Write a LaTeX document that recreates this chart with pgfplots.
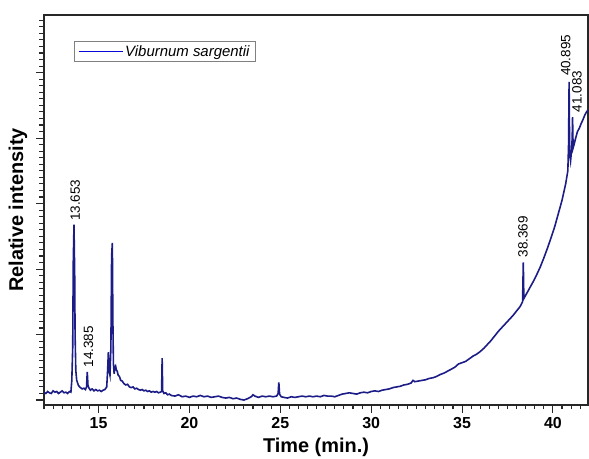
\documentclass[border=0pt]{standalone}
\usepackage{pgfplots}
\pgfplotsset{compat=1.18}
\usepackage{fontspec}
\setmainfont{Liberation Sans}
\definecolor{navy}{RGB}{28,28,135}
\definecolor{frame}{RGB}{40,40,40}
\begin{document}
\begin{tikzpicture}[x=1bp,y=1bp]
\useasboundingbox (0,0) rectangle (589,459);
\begin{axis}[
  at={(44bp,54bp)}, anchor=south west,
  width=544bp, height=390bp, scale only axis,
  xmin=12, xmax=41.93, ymin=-0.076, ymax=5.88,
  xtick={15,20,25,30,35,40},
  minor xtick={12,12.5,...,41.5},
  ytick={0,1,2,3,4,5}, yticklabels={},
  minor ytick={-0.0,0.1,...,5.8},
  xtick pos=left, ytick pos=left,
  tick align=outside,
  major tick length=8bp, minor tick length=4.5bp,
  major tick style={frame, line width=1.1bp},
  minor tick style={frame, line width=1.1bp},
  axis line style={frame, line width=1.3bp},
  /pgf/number format/assume math mode=true,
  xticklabel style={font=\fontsize{16}{18}\selectfont\bfseries, yshift=-1bp},
  xlabel={Time (min.)},
  ylabel={Relative intensity},
  xlabel style={font=\fontsize{20}{22}\selectfont\bfseries, at={(axis description cs:0.5,-0.108)}, anchor=center},
  ylabel style={font=\fontsize{20}{22}\selectfont\bfseries, at={(axis description cs:-0.048,0.5)}, anchor=center},
  legend style={at={(axis description cs:0.055,0.933)}, anchor=north west,
    draw=gray, line width=0.6bp, font=\fontsize{15}{17}\selectfont\itshape,
    inner xsep=4bp, inner ysep=2bp},
  legend image code/.code={\draw[blue!70!navy, line width=1bp] (0bp,0bp) -- (44bp,0bp);},
  clip=true,
]
\addplot[navy, line width=1.6bp] table {
12.00 0.12
12.10 0.10
12.20 0.13
12.30 0.11
12.40 0.10
12.50 0.14
12.60 0.12
12.70 0.13
12.80 0.10
12.90 0.12
13.00 0.14
13.10 0.11
13.20 0.12
13.30 0.10
13.40 0.13
13.48 0.12
13.53 0.30
13.58 0.80
13.61 2.10
13.65 2.68
13.69 1.88
13.71 1.00
13.75 0.45
13.80 0.30
13.90 0.22
14.00 0.19
14.10 0.17
14.20 0.18
14.28 0.16
14.34 0.20
14.38 0.43
14.42 0.22
14.48 0.18
14.55 0.15
14.65 0.17
14.75 0.14
14.85 0.16
14.95 0.14
15.05 0.15
15.15 0.13
15.25 0.15
15.35 0.16
15.45 0.20
15.50 0.45
15.54 0.73
15.58 0.45
15.63 0.38
15.68 0.80
15.72 2.20
15.76 2.40
15.79 1.20
15.82 0.55
15.86 0.40
15.90 0.50
15.94 0.52
15.98 0.46
16.03 0.44
16.08 0.38
16.15 0.36
16.22 0.30
16.30 0.29
16.40 0.25
16.50 0.23
16.60 0.24
16.70 0.20
16.80 0.19
16.90 0.20
17.00 0.17
17.10 0.18
17.20 0.16
17.30 0.15
17.40 0.16
17.50 0.14
17.60 0.15
17.70 0.13
17.80 0.14
17.90 0.12
18.00 0.13
18.10 0.12
18.20 0.13
18.30 0.11
18.40 0.12
18.47 0.13
18.50 0.64
18.53 0.14
18.60 0.10
18.70 0.11
18.80 0.08
18.90 0.09
19.00 0.07
19.20 0.06
19.40 0.08
19.60 0.05
19.80 0.06
20.00 0.04
20.20 0.06
20.40 0.05
20.60 0.07
20.80 0.05
21.00 0.06
21.20 0.04
21.40 0.05
21.60 0.06
21.80 0.04
22.00 0.03
22.20 0.04
22.40 0.02
22.60 0.03
22.80 0.01
23.00 0.00
23.20 0.02
23.40 0.05
23.50 0.08
23.60 0.06
23.80 0.04
24.00 0.06
24.20 0.05
24.40 0.06
24.60 0.05
24.80 0.06
24.88 0.10
24.92 0.27
24.96 0.09
25.05 0.05
25.20 0.04
25.40 0.03
25.60 0.05
25.80 0.04
26.00 0.05
26.20 0.06
26.40 0.05
26.60 0.06
26.80 0.05
27.00 0.06
27.20 0.05
27.40 0.07
27.60 0.06
27.80 0.06
28.00 0.05
28.20 0.07
28.40 0.09
28.60 0.10
28.80 0.11
29.00 0.10
29.20 0.09
29.40 0.11
29.60 0.12
29.80 0.11
30.00 0.13
30.20 0.14
30.40 0.13
30.60 0.15
30.80 0.16
31.00 0.17
31.20 0.19
31.40 0.20
31.60 0.21
31.80 0.23
32.00 0.24
32.20 0.26
32.30 0.30
32.40 0.28
32.60 0.29
32.80 0.30
33.00 0.31
33.20 0.33
33.40 0.34
33.60 0.36
33.80 0.39
34.00 0.41
34.20 0.44
34.40 0.47
34.60 0.50
34.80 0.55
35.00 0.57
35.20 0.59
35.40 0.63
35.60 0.67
35.80 0.70
36.00 0.74
36.20 0.79
36.40 0.85
36.60 0.91
36.80 0.98
37.00 1.05
37.20 1.11
37.40 1.17
37.60 1.23
37.80 1.29
38.00 1.36
38.20 1.43
38.33 1.50
38.37 2.10
38.40 1.55
38.50 1.60
38.70 1.70
38.90 1.80
39.10 1.91
39.30 2.03
39.50 2.17
39.70 2.32
39.90 2.48
40.10 2.65
40.30 2.85
40.50 3.05
40.70 3.30
40.82 3.50
40.86 3.90
40.89 4.86
40.92 3.75
40.97 3.65
41.02 3.80
41.06 4.00
41.08 4.32
41.11 3.85
41.16 3.90
41.25 4.00
41.35 4.10
41.45 4.15
41.55 4.22
41.65 4.28
41.75 4.35
41.85 4.40
41.93 4.43
};
\addlegendentry{Viburnum sargentii}
\begin{scope}[every node/.style={rotate=90, anchor=west, inner sep=1bp, font=\fontsize{13.5}{15}\selectfont}]
\node at (axis cs:13.72,2.72) {13.653};
\node at (axis cs:14.45,0.48) {14.385};
\node at (axis cs:38.35,2.16) {38.369};
\node at (axis cs:40.70,4.93) {40.895};
\node at (axis cs:41.33,4.38) {41.083};
\end{scope}
\end{axis}
\end{tikzpicture}
\end{document}
